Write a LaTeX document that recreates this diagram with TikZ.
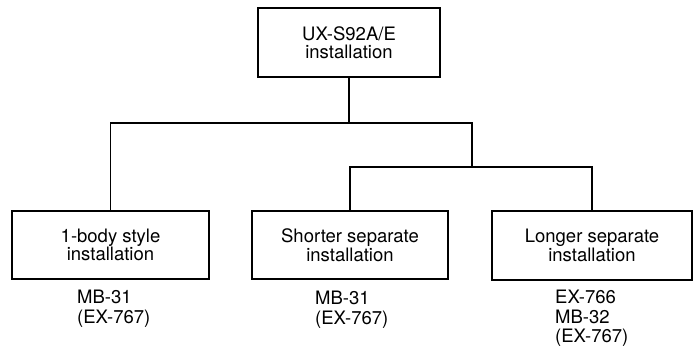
\documentclass[tikz,border=0pt]{standalone}
\usepackage{fontspec}
\setmainfont{TeX Gyre Heros}
\begin{document}
\begin{tikzpicture}[x=1pt,y=-1pt,
  box/.style={draw, line width=1.3pt, inner sep=0pt, align=center,
    font=\fontsize{18.5}{18.5}\selectfont},
  lab/.style={anchor=north west, inner sep=0pt, align=left,
    font=\fontsize{18.5}{19.5}\selectfont},
  conn/.style={line width=1.5pt}]
\useasboundingbox (0,0) rectangle (693,348);
\node[box, minimum width=182pt, minimum height=69pt] (top) at (349,42.5) {UX-S92A/E\\installation};
\node[box, minimum width=197pt, minimum height=68pt] (left) at (110.5,245) {1-body style\\installation};
\node[box, minimum width=196pt, minimum height=68pt] (mid) at (350,245) {Shorter separate\\installation};
\node[box, minimum width=200pt, minimum height=69pt] (right) at (592,245.5) {Longer separate\\installation};
\coordinate (j1) at (349,123);
\coordinate (j2) at (472,123);
\coordinate (j3) at (472,167);
\draw[conn] (top.south) -- (j1);
\draw[conn] (j1) -| (left.north);
\draw[conn] (j1) -- (j2) -- (j3);
\draw[conn] (j3) -| (mid.north);
\draw[conn] (j3) -| (right.north);
\node[lab] (l1) at (77,290) {MB-31\\(EX-767)};
\node[lab] (l2) at (315,291) {MB-31\\(EX-767)};
\node[lab] (l3) at (555,290) {EX-766\\MB-32\\(EX-767)};
\end{tikzpicture}
\end{document}
